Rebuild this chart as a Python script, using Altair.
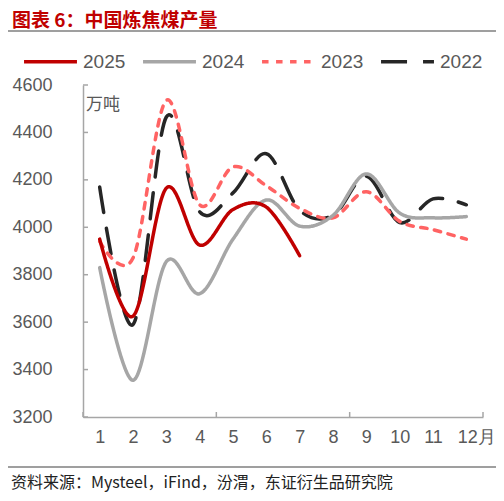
import altair as alt
import pandas as pd

# monthly coking coal output, 10k tonnes
months = list(range(1, 13))
years = ["2025", "2024", "2023", "2022"]
prod_2025 = [3950, 3625, 4165, 3925, 4075, 4085, 3880]
prod_2024 = [3830, 3355, 3855, 3720, 3950, 4115, 4005, 4050, 4225, 4060, 4040, 4045]
prod_2023 = [3940, 3870, 4535, 4095, 4255, 4175, 4080, 4040, 4150, 4025, 3990, 3950]
prod_2022 = [4170, 3590, 4465, 4065, 4145, 4310, 4072, 4050, 4215, 4020, 4120, 4095]

y_ticks = [3200, 3400, 3600, 3800, 4000, 4200, 4400, 4600]
x_group_ticks = [0.5, 4.5, 8.5, 12.5]

title_text = "图表 6：中国炼焦煤产量"
unit_text = "万吨"
source_text = "资料来源：Mysteel，iFind，汾渭，东证衍生品研究院"

colors = ["#C00000", "#A6A6A6", "#FF6363", "#262626"]
dashes = [[1, 0], [1, 0], [6.5, 7.5], [26, 16]]

rows = []
for year, vals in [("2022", prod_2022), ("2023", prod_2023),
                   ("2024", prod_2024), ("2025", prod_2025)]:
    for m, v in zip(months, vals):
        rows.append({"year": year, "month": m, "value": v})
df = pd.DataFrame(rows)

W, H = 400, 332
GRAY = "#595959"
AXIS_GRAY = "#A6A6A6"
NUM_FONT = "Liberation Sans"
CJK_FONT = "Noto Sans CJK SC"

x_scale = alt.Scale(domain=[0.5, 12.5], nice=False, zero=False)
y_scale = alt.Scale(domain=[3200, 4600], nice=False, zero=False)

x_axis = alt.Axis(values=months, ticks=False, grid=False, title=None,
                  labelPadding=11, labelOverlap=False, labelFlush=False,
                  labelExpr="datum.value == 12 ? '12月' : datum.label",
                  labelOffset={"condition": {"test": "datum.value == 12", "value": 10},
                               "value": 0})
y_axis = alt.Axis(values=y_ticks, ticks=False, grid=False, title=None,
                  labelPadding=31, format="d")

lines = alt.Chart(df).mark_line(
    strokeWidth=3.5, interpolate="cardinal", strokeCap="round"
).encode(
    x=alt.X("month:Q", scale=x_scale, axis=x_axis),
    y=alt.Y("value:Q", scale=y_scale, axis=y_axis),
    color=alt.Color("year:N", title=None,
                    scale=alt.Scale(domain=years, range=colors),
                    legend=alt.Legend(orient="none", legendX=-61, legendY=-52,
                                      direction="horizontal", columns=4,
                                      gridAlign="all",
                                      symbolType="stroke", symbolSize=2800,
                                      symbolStrokeWidth=3.5,
                                      labelOffset=4, columnPadding=10)),
    strokeDash=alt.StrokeDash("year:N", title=None,
                              scale=alt.Scale(domain=years, range=dashes)),
)

x_tick_rules = alt.Chart(pd.DataFrame({"b": x_group_ticks})).mark_rule(
    color=AXIS_GRAY, strokeWidth=1.5
).encode(x=alt.X("b:Q", scale=x_scale, axis=x_axis), y=alt.value(H), y2=alt.value(H - 5))

y_tick_rules = alt.Chart(pd.DataFrame({"v": y_ticks})).mark_rule(
    color=AXIS_GRAY, strokeWidth=1.5
).encode(y=alt.Y("v:Q", scale=y_scale, axis=y_axis), x=alt.value(0), x2=alt.value(5))

unit = alt.Chart(pd.DataFrame({"t": [unit_text]})).mark_text(
    font=CJK_FONT, fontSize=17, color=GRAY, align="left", baseline="middle"
).encode(text="t:N", x=alt.value(3), y=alt.value(20))

title = alt.Chart(pd.DataFrame({"t": [title_text]})).mark_text(
    font=CJK_FONT, fontSize=19, fontWeight="bold", color="#C00000",
    align="left", baseline="middle"
).encode(text="t:N", x=alt.value(-71), y=alt.value(-64))

header_rule = alt.Chart(pd.DataFrame({"k": [0]})).mark_rule(
    color="#404040", strokeWidth=1.2
).encode(x=alt.value(-75), x2=alt.value(413), y=alt.value(-54))

footer_rule = alt.Chart(pd.DataFrame({"k": [0]})).mark_rule(
    color="#404040", strokeWidth=1.2
).encode(x=alt.value(-75), x2=alt.value(413), y=alt.value(382))

source = alt.Chart(pd.DataFrame({"t": [source_text]})).mark_text(
    font=CJK_FONT, fontSize=16, color="#222222", align="left", baseline="middle"
).encode(text="t:N", x=alt.value(-72), y=alt.value(398))

chart = alt.layer(
    lines, x_tick_rules, y_tick_rules, unit, title, header_rule, footer_rule, source
).properties(
    width=W, height=H,
    autosize=alt.AutoSizeParams(type="none"),
    padding={"left": 75, "top": 77, "right": 13, "bottom": 75},
).configure_view(
    stroke=None
).configure_axis(
    domainColor=AXIS_GRAY, domainWidth=1.5,
    labelFont=NUM_FONT, labelFontSize=18, labelColor=GRAY,
).configure_legend(
    labelFont=NUM_FONT, labelFontSize=19, labelColor=GRAY,
)

chart.save("out.html", embed_options={"renderer": "svg", "actions": False})
